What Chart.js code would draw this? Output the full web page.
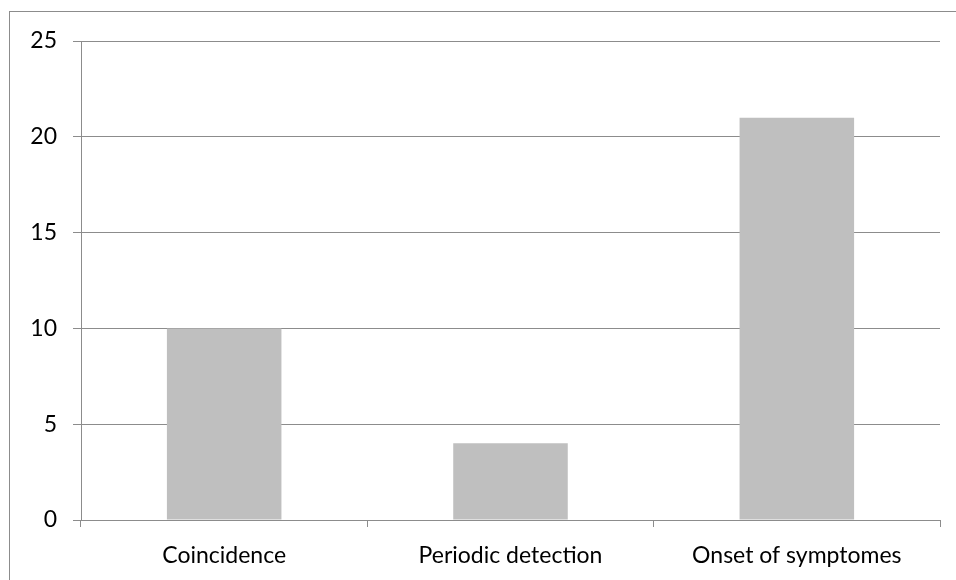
<!DOCTYPE html>
<html>
<head>
<meta charset="utf-8">
<script src="https://cdn.jsdelivr.net/npm/chart.js@4"></script>
<style>
  html, body { margin: 0; padding: 0; background: #fff; }
  #wrap { position: relative; width: 956px; height: 580px; overflow: hidden; }
  #frame { position: absolute; left: 9px; top: 11px; width: 1000px; height: 1000px; border: 1px solid #8c8c8c; box-sizing: border-box; }
  canvas { position: absolute; left: 0; top: 0; }
</style>
</head>
<body>
<div id="wrap">
  <div id="frame"></div>
  <canvas id="chart" width="956" height="580"></canvas>
</div>
<script>
const categories = ["Coincidence", "Periodic detection", "Onset of symptomes"];
const counts = [10, 4, 21];
const yTicks = [0, 5, 10, 15, 20, 25];

const axisGray = "#8c8c8c";
const fontFamily = "Lato, 'Open Sans', sans-serif";

new Chart(document.getElementById("chart"), {
  type: "bar",
  data: {
    labels: categories,
    datasets: [
      { data: counts, backgroundColor: "#bfbfbf", borderWidth: 0, barPercentage: 0.4, categoryPercentage: 1 },
    ],
  },
  options: {
    responsive: false,
    animation: false,
    layout: { padding: { top: 41, right: 16, left: 0, bottom: 0 } },
    plugins: { legend: { display: false }, tooltip: { enabled: false } },
    scales: {
      x: {
        offset: true,
        grid: { offset: true, drawOnChartArea: false, drawTicks: true, tickLength: 7, color: axisGray },
        border: { display: true, color: axisGray },
        ticks: { color: "#000", font: { family: fontFamily, size: 23 }, padding: 15, maxRotation: 0 },
        afterFit: (s) => { s.height = 60; },
      },
      y: {
        min: 0,
        max: 25,
        afterBuildTicks: (s) => { s.ticks = yTicks.map((v) => ({ value: v })); },
        grid: { color: axisGray, tickLength: 8 },
        border: { display: true, color: axisGray },
        ticks: { color: "#000", font: { family: fontFamily, size: 23 }, padding: 16 },
        afterFit: (s) => { s.width = 81; },
      },
    },
  },
});
</script>
</body>
</html>
